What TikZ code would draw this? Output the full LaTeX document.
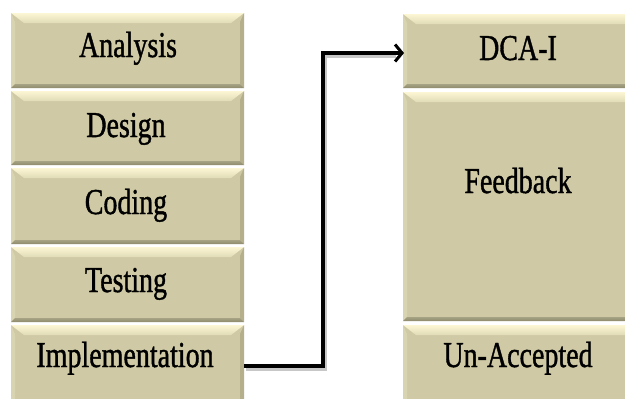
\documentclass[tikz,border=0pt]{standalone}
\usepackage{fontspec}
\setmainfont{Liberation Serif}
\newfontfamily\lblfont[FakeBold=1.2]{Liberation Serif}
\usetikzlibrary{arrows.meta,calc,shadows}
\definecolor{boxfill}{HTML}{CFCAA5}
\definecolor{boxlight}{HTML}{FCF6D4}
\definecolor{boxdark}{HTML}{8F8A6C}
\definecolor{boxside}{HTML}{D8D3B0}
\definecolor{boxrside}{HTML}{B5AF8C}
\tikzset{
  bevelbox/.style={fill=boxfill, inner sep=0pt, outer sep=0pt, draw=none,
    path picture={
      \coordinate (nw) at (path picture bounding box.north west);
      \coordinate (ne) at (path picture bounding box.north east);
      \coordinate (sw) at (path picture bounding box.south west);
      \coordinate (se) at (path picture bounding box.south east);
      \fill[boxside] (nw) -- ($(nw)+(4,9)$) -- ($(sw)+(4,-4)$) -- (sw) -- cycle;
      \fill[boxrside] (ne) -- ($(ne)+(-4,9)$) -- ($(se)+(-4,-4)$) -- (se) -- cycle;
      \shade[top color=boxlight, bottom color=boxfill!60!boxlight] (nw) -- (ne) -- ($(ne)+(-13,10)$) -- ($(nw)+(13,10)$) -- cycle;
      \shade[top color=boxfill!80!black, bottom color=boxdark] ($(sw)+(4,-4)$) -- ($(se)+(-4,-4)$) -- (se) -- (sw) -- cycle;
    }},
  lbl/.style={anchor=base, inner sep=0pt, font=\lblfont\fontsize{28}{30}\selectfont},
  conn/.style={line width=3.2pt, black, -{Straight Barb[length=7pt,width=17pt,line width=3pt]}}
}
\newcommand{\tall}[1]{\scalebox{1}[1.3]{#1}}
\begin{document}
\begin{tikzpicture}[x=1pt,y=-1pt]
\useasboundingbox[fill=white] (0,0) rectangle (625,399);
% left column
\path[bevelbox] (11,13) rectangle (244,88) node[pos=0.5] (analysisbox) {};
\path[bevelbox] (11,91) rectangle (244,165) node[pos=0.5] (designbox) {};
\path[bevelbox] (11,168) rectangle (244,244) node[pos=0.5] (codingbox) {};
\path[bevelbox] (11,247) rectangle (244,322) node[pos=0.5] (testingbox) {};
\path[bevelbox] (11,325) rectangle (244,404) node[pos=0.5] (implbox) {};
\coordinate (implE) at (244,366);
% right column
\path[bevelbox] (403,14) rectangle (640,88) node[pos=0.5] (dcabox) {};
\path[bevelbox] (403,92) rectangle (640,321) node[pos=0.5] (feedbox) {};
\path[bevelbox] (403,325) rectangle (640,404) node[pos=0.5] (unaccbox) {};
\coordinate (dcaW) at (404,53);
% labels
\node[lbl] (analysis) at (128,57) {\tall{Analysis}};
\node[lbl] (design) at (126,137) {\tall{Design}};
\node[lbl] (coding) at (126,214) {\tall{Coding}};
\node[lbl] (testing) at (126,292) {\tall{Testing}};
\node[lbl] (impl) at (125,367) {\tall{Implementation}};
\node[lbl] (dca) at (518,60) {\tall{DCA-I}};
\node[lbl] (feed) at (518,193) {\tall{Feedback}};
\node[lbl] (unacc) at (518,367) {\tall{Un-Accepted}};
% connector
\draw[black!22, line width=3.5pt] ($(implE)+(2,3)$) -| ($(323,53)+(2,3)$) -- ($(dcaW)+(-8,3)$);
\draw[conn] (implE) -| (323,53) -- (dcaW);
\end{tikzpicture}
\end{document}
